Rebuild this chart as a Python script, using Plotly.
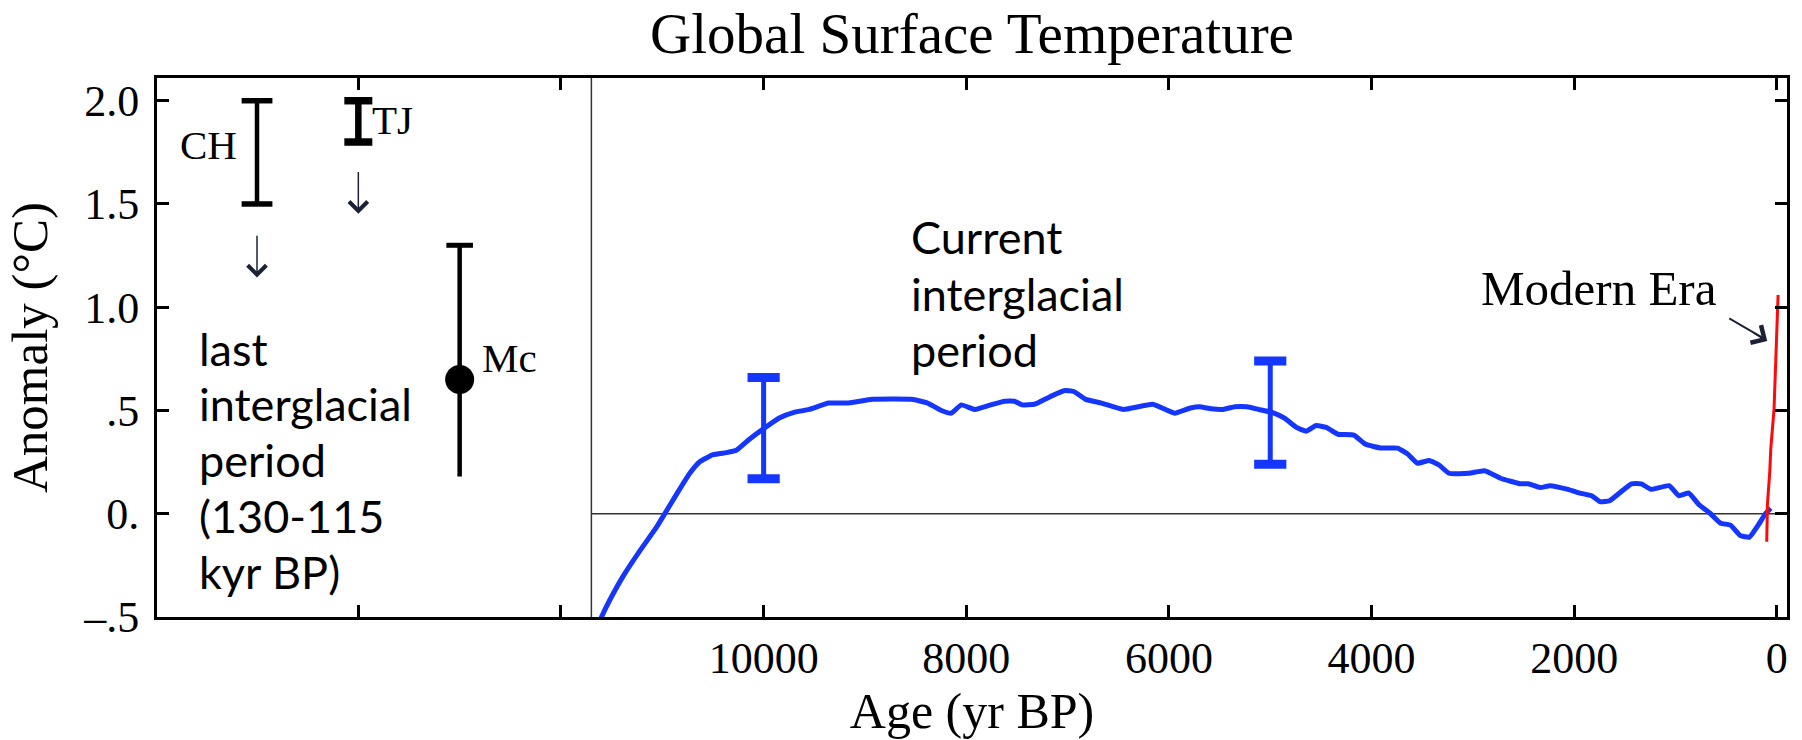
import plotly.graph_objects as go

# Holocene global temperature reconstruction (age in yr BP, anomaly in °C)
holocene_age = [11650, 11600, 11513, 11386, 11222, 11057, 10976, 10860, 10729, 10630,
                10499, 10367, 10269, 10137, 10006, 9841, 9708, 9552, 9358, 9162,
                8928, 8539, 8382, 8245, 8148, 8050, 7914, 7758, 7622, 7524,
                7446, 7329, 7173, 7036, 6939, 6822, 6666, 6451, 6159, 5944,
                5788, 5698, 5583, 5466, 5349, 5231, 5114, 4977, 4859, 4742,
                4644, 4546, 4448, 4331, 4175, 4058, 3901, 3744, 3646, 3549,
                3431, 3334, 3236, 3040, 2884, 2727, 2532, 2453, 2336, 2238,
                2062, 1945, 1828, 1741, 1651, 1553, 1436, 1338, 1241, 1064,
                967, 869, 771, 654, 555, 458, 360, 270, 184, 113, 60]
holocene_anom = [-0.56, -0.50, -0.413, -0.302, -0.180, -0.065, 0.00, 0.094, 0.196, 0.252,
                 0.286, 0.296, 0.307, 0.362, 0.41, 0.465, 0.49, 0.505, 0.536, 0.536,
                 0.554, 0.554, 0.536, 0.50, 0.487, 0.527, 0.505, 0.527, 0.545, 0.545,
                 0.527, 0.53, 0.567, 0.596, 0.592, 0.554, 0.536, 0.505, 0.53, 0.487,
                 0.512, 0.518, 0.508, 0.505, 0.518, 0.518, 0.505, 0.49, 0.463, 0.418,
                 0.40, 0.427, 0.418, 0.385, 0.381, 0.336, 0.318, 0.318, 0.29, 0.245,
                 0.258, 0.236, 0.196, 0.196, 0.208, 0.172, 0.145, 0.145, 0.127, 0.136,
                 0.118, 0.10, 0.087, 0.058, 0.063, 0.10, 0.145, 0.145, 0.118, 0.136,
                 0.087, 0.10, 0.045, 0.0, -0.046, -0.055, -0.106, -0.113, -0.055, 0.0, 0.027]

# Instrumental (modern era) record
modern_age = [100, 93, 70, 60, 28, 5, -12]
modern_anom = [-0.136, 0.046, 0.204, 0.315, 0.505, 0.837, 1.059]

# Holocene uncertainty ranges
holo_bar_age = [10000, 5000]
holo_bar_low = [0.17, 0.24]
holo_bar_high = [0.66, 0.74]

# Last interglacial estimates, placed in the inset panel on the left
lig_names = ["CH", "TJ", "Mc"]
lig_pos = [15000, 14000, 13000]
lig_low = [1.5, 1.8, 0.18]
lig_high = [2.0, 2.0, 1.3]
mc_value = 0.65

x_ticks = [0, 2000, 4000, 6000, 8000, 10000, 12000, 14000]
x_ticktext = ["0", "2000", "4000", "6000", "8000", "10000", "", ""]
y_ticks = [-0.5, 0.0, 0.5, 1.0, 1.5, 2.0]
y_ticktext = ["\u2013.5", "0.", ".5", "1.0", "1.5", "2.0"]

BLUE = "#1436ff"
RED = "#ff0a0a"
INK = "#000000"
ARROW = "#1c2236"
SERIF = "Liberation Serif"
SANS = "Lato"
PANEL_EDGE = 11700

fig = go.Figure()


def add_range_bar(x, lo, hi, color, stem, cap_len, cap_w, caps=("lo", "hi")):
    fig.add_trace(go.Scatter(x=[x, x], y=[lo, hi], mode="lines",
                             line=dict(color=color, width=stem),
                             hoverinfo="skip", showlegend=False))
    ys = [v for k, v in (("lo", lo), ("hi", hi)) if k in caps]
    fig.add_trace(go.Scatter(x=[x] * len(ys), y=ys, mode="markers",
                             marker=dict(symbol="line-ew", size=cap_len,
                                         line=dict(color=color, width=cap_w)),
                             hoverinfo="skip", showlegend=False))


# Holocene curve
fig.add_trace(go.Scatter(x=holocene_age, y=holocene_anom, mode="lines",
                         line=dict(color=BLUE, width=5, shape="spline", smoothing=0.4),
                         showlegend=False))
# Modern era
fig.add_trace(go.Scatter(x=modern_age, y=modern_anom, mode="lines",
                         line=dict(color=RED, width=3), showlegend=False))

for a, lo, hi in zip(holo_bar_age, holo_bar_low, holo_bar_high):
    add_range_bar(a, lo, hi, BLUE, 5, 23, 9)

# Last interglacial bars
add_range_bar(lig_pos[0], lig_low[0], lig_high[0], INK, 4.5, 22, 5.5)
add_range_bar(lig_pos[1], lig_low[1], lig_high[1], INK, 6.5, 20, 7.5)
add_range_bar(lig_pos[2], lig_low[2], lig_high[2], INK, 4.5, 19, 5, caps=("hi",))
fig.add_trace(go.Scatter(x=[lig_pos[2]], y=[mc_value], mode="markers",
                         marker=dict(color=INK, size=29), showlegend=False))

# Panel divider and zero line
fig.add_shape(type="line", xref="x", yref="paper", x0=PANEL_EDGE, x1=PANEL_EDGE,
              y0=0, y1=1, line=dict(color="#333333", width=1.5), layer="below")
fig.add_shape(type="line", xref="x", yref="y", x0=PANEL_EDGE, x1=-100,
              y0=0, y1=0, line=dict(color="#333333", width=1.5), layer="below")

# Shaft of the pointer to the modern era record
fig.add_shape(type="line", xref="x", yref="y", x0=470, y0=0.946, x1=110, y1=0.843,
              line=dict(color=ARROW, width=1.8))

ann = []
# Text labels for the bars
ann.append(dict(x=15174, y=1.785, text=lig_names[0], xanchor="right", yanchor="middle"))
ann.append(dict(x=13880, y=1.905, text=lig_names[1], xanchor="left", yanchor="middle"))
ann.append(dict(x=12800, y=0.755, text=lig_names[2], xanchor="left", yanchor="middle"))
for a in ann:
    a.update(xref="x", yref="y", showarrow=False, font=dict(family=SERIF, size=41, color=INK))

ann.append(dict(x=1758, y=1.09, text="Modern Era", xref="x", yref="y", showarrow=False,
                xanchor="center", yanchor="middle",
                font=dict(family=SERIF, size=49, color=INK)))

left_lines = ["last", "interglacial", "period", "(130-115", "kyr BP)"]
for i, t in enumerate(left_lines):
    ann.append(dict(x=15590, y=0.80 - i * 0.2707, text=t, xref="x", yref="y",
                    showarrow=False, xanchor="left", yanchor="middle",
                    font=dict(family=SANS, size=45, color=INK)))

current_lines = ["Current", "interglacial", "period"]
for i, t in enumerate(current_lines):
    ann.append(dict(x=8570, y=1.339 - i * 0.273, text=t, xref="x", yref="y",
                    showarrow=False, xanchor="left", yanchor="middle",
                    font=dict(family=SANS, size=45, color=INK)))

# Downward arrows under CH and TJ
for x, tip, tail in [(15000, 1.144, 1.353), (14000, 1.453, 1.662)]:
    ann.append(dict(x=x, y=tip, ax=x, ay=tail, xref="x", yref="y", axref="x", ayref="y",
                    text="", showarrow=True, arrowhead=4, arrowsize=2.4, arrowwidth=1.5,
                    arrowcolor=ARROW, standoff=0))
# Head of the modern era pointer
ann.append(dict(x=95, y=0.837, ax=-15, ay=-9, xref="x", yref="y",
                text="", showarrow=True, arrowhead=4, arrowsize=2.2, arrowwidth=1.8,
                arrowcolor=ARROW, standoff=0))

fig.update_layout(
    width=1802, height=740,
    margin=dict(l=157, r=14, t=78, b=112),
    paper_bgcolor="white", plot_bgcolor="white",
    title=dict(text="Global Surface Temperature", x=0.5, xref="paper",
               y=1 - 33 / 740, yref="container", yanchor="middle", xanchor="center",
               font=dict(family=SERIF, size=57, color=INK)),
    annotations=ann,
    showlegend=False,
)

fig.update_xaxes(range=[15987, -100], tickvals=x_ticks, ticktext=x_ticktext,
                 ticks="inside", ticklen=12, tickwidth=2.5, tickcolor=INK,
                 showline=True, linewidth=3, linecolor=INK, mirror="ticks",
                 showgrid=False, zeroline=False,
                 tickfont=dict(family=SERIF, size=44, color=INK),
                 title=dict(text="Age (yr BP)", standoff=10,
                            font=dict(family=SERIF, size=50, color=INK)))
fig.update_yaxes(range=[-0.5, 2.11], tickvals=y_ticks, ticktext=y_ticktext,
                 ticks="inside", ticklen=12, tickwidth=2.5, tickcolor=INK,
                 showline=True, linewidth=3, linecolor=INK, mirror="ticks",
                 showgrid=False, zeroline=False, ticklabelstandoff=6,
                 tickfont=dict(family=SERIF, size=44, color=INK),
                 title=dict(text="Anomaly (°C)", standoff=20,
                            font=dict(family=SERIF, size=51, color=INK)))

fig.write_html("out.html")
